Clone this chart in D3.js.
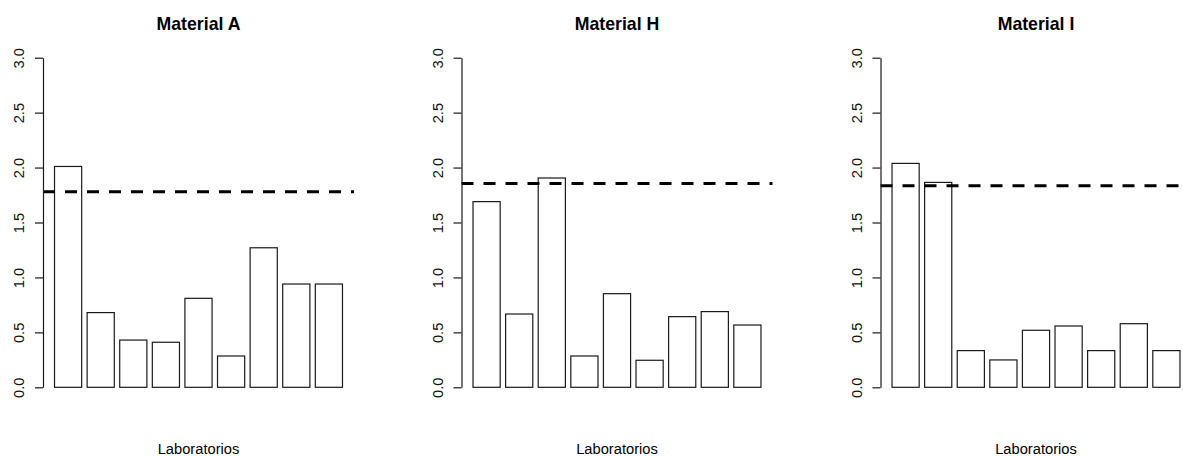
<!DOCTYPE html>
<html>
<head>
<meta charset="utf-8">
<script src="https://cdn.jsdelivr.net/npm/d3@7"></script>
<style>
  html, body { margin: 0; padding: 0; background: #fff; }
  svg { display: block; font-family: "Liberation Sans", Arial, sans-serif; }
</style>
</head>
<body>
<svg id="chart" width="1183" height="456"></svg>
<script>
// Laboratories (one bar each) and measured values per material
const labs = [1, 2, 3, 4, 5, 6, 7, 8, 9];
const materials = ["Material A", "Material H", "Material I"];
const valuesA = [2.01, 0.68, 0.43, 0.41, 0.81, 0.285, 1.27, 0.94, 0.94];
const valuesH = [1.69, 0.667, 1.905, 0.285, 0.852, 0.246, 0.643, 0.689, 0.567];
const valuesI = [2.038, 1.865, 0.334, 0.249, 0.519, 0.558, 0.334, 0.579, 0.334];
// Critical value drawn as a dashed reference line in each panel
const limits = [1.78, 1.856, 1.835];
const yTicks = [0, 0.5, 1, 1.5, 2, 2.5, 3];
const yTickLabels = ["0.0", "0.5", "1.0", "1.5", "2.0", "2.5", "3.0"];
const xLabel = "Laboratorios";

const series = [valuesA, valuesH, valuesI];

const svg = d3.select("#chart");
const panelLefts = [43, 461.5, 880.5];
const panelWidth = 311;
const yTop = 57.7, yBottom = 387.3;

// barplot geometry: width 1, space 0.2, axis range padded by 4%
const barW = 1, gap = 0.2;
const xMin = gap, xMax = labs.length * (barW + gap);
const pad = (xMax - xMin) * 0.04;

const y = d3.scaleLinear().domain([0, 3]).range([yBottom, yTop]);

materials.forEach((name, p) => {
  const left = panelLefts[p];
  const x = d3.scaleLinear()
    .domain([xMin - pad, xMax + pad])
    .range([left, left + panelWidth]);
  const g = svg.append("g");
  const vals = series[p];

  // bars
  g.selectAll("rect.bar")
    .data(labs)
    .enter().append("rect")
    .attr("class", "bar")
    .attr("x", (d, i) => x(gap + i * (barW + gap)))
    .attr("width", (d, i) => x(gap + i * (barW + gap) + barW) - x(gap + i * (barW + gap)))
    .attr("y", (d, i) => y(vals[i]))
    .attr("height", (d, i) => y(0) - y(vals[i]))
    .attr("fill", "#fff")
    .attr("stroke", "#1a1a1a")
    .attr("stroke-width", 1.2);

  // dashed reference line across the plot region
  g.append("line")
    .attr("x1", x(xMin - pad))
    .attr("x2", x(xMax + pad))
    .attr("y1", y(limits[p]))
    .attr("y2", y(limits[p]))
    .attr("stroke", "#000")
    .attr("stroke-width", 3)
    .attr("stroke-dasharray", "12,10");

  // y axis
  const axis = d3.axisLeft(y)
    .tickValues(yTicks)
    .tickFormat((d, i) => yTickLabels[i])
    .tickSize(8)
    .tickSizeOuter(0);
  const ag = g.append("g")
    .attr("transform", `translate(${x(xMin - pad)},0)`)
    .call(axis);
  ag.select(".domain").attr("stroke", "#1a1a1a").attr("stroke-width", 1.2);
  ag.selectAll(".tick line").attr("stroke", "#1a1a1a").attr("stroke-width", 1.2);
  ag.selectAll(".tick text")
    .attr("transform", "rotate(-90)")
    .attr("x", 0)
    .attr("y", -19)
    .attr("dy", 0)
    .attr("text-anchor", "middle")
    .attr("fill", "#111")
    .style("font-size", "14.7px")
    .style("font-family", "'Liberation Sans', Arial, sans-serif");

  const cx = left + panelWidth / 2;
  // title
  g.append("text")
    .attr("x", cx)
    .attr("y", 30)
    .attr("text-anchor", "middle")
    .style("font-weight", "bold")
    .style("font-size", "17.7px")
    .text(name);

  // x axis label
  g.append("text")
    .attr("x", cx)
    .attr("y", 454)
    .attr("text-anchor", "middle")
    .style("font-size", "14.7px")
    .text(xLabel);
});
</script>
</body>
</html>
